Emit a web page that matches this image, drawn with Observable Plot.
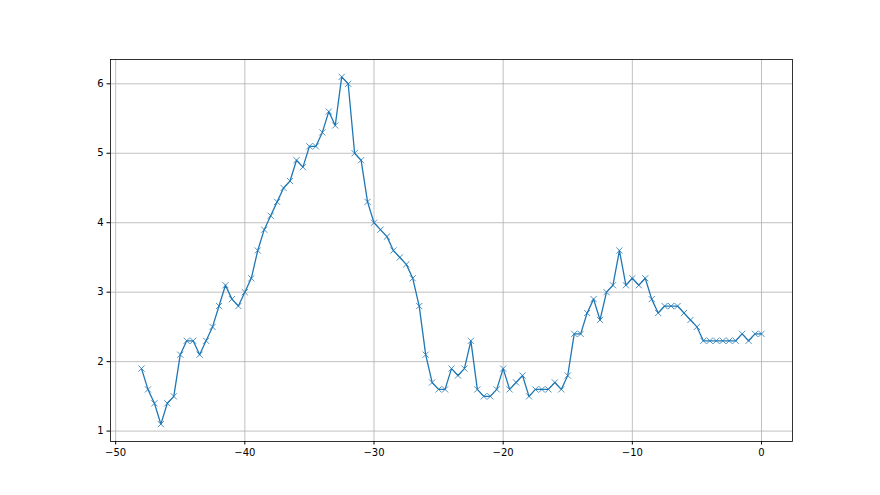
<!DOCTYPE html>
<html>
<head>
<meta charset="utf-8">
<script src="https://cdn.jsdelivr.net/npm/d3@7"></script>
<script src="https://cdn.jsdelivr.net/npm/@observablehq/plot@0.6"></script>
<style>
  html, body { margin: 0; padding: 0; background: #fff; }
  svg { display: block; }
</style>
</head>
<body>
<div id="chart"></div>
<script>
const xValues = [
  -48, -47.5, -47, -46.5, -46, -45.5, -45, -44.5, -44, -43.5,
  -43, -42.5, -42, -41.5, -41, -40.5, -40, -39.5, -39, -38.5,
  -38, -37.5, -37, -36.5, -36, -35.5, -35, -34.5, -34, -33.5,
  -33, -32.5, -32, -31.5, -31, -30.5, -30, -29.5, -29, -28.5,
  -28, -27.5, -27, -26.5, -26, -25.5, -25, -24.5, -24, -23.5,
  -23, -22.5, -22, -21.5, -21, -20.5, -20, -19.5, -19, -18.5,
  -18, -17.5, -17, -16.5, -16, -15.5, -15, -14.5, -14, -13.5,
  -13, -12.5, -12, -11.5, -11, -10.5, -10, -9.5, -9, -8.5,
  -8, -7.5, -7, -6.5, -6, -5.5, -5, -4.5, -4, -3.5,
  -3, -2.5, -2, -1.5, -1, -0.5, 0
];
const yValues = [
  1.9, 1.6, 1.4, 1.1, 1.4, 1.5, 2.1, 2.3, 2.3, 2.1,
  2.3, 2.5, 2.8, 3.1, 2.9, 2.8, 3.0, 3.2, 3.6, 3.9,
  4.1, 4.3, 4.5, 4.6, 4.9, 4.8, 5.1, 5.1, 5.3, 5.6,
  5.4, 6.1, 6.0, 5.0, 4.9, 4.3, 4.0, 3.9, 3.8, 3.6,
  3.5, 3.4, 3.2, 2.8, 2.1, 1.7, 1.6, 1.6, 1.9, 1.8,
  1.9, 2.3, 1.6, 1.5, 1.5, 1.6, 1.9, 1.6, 1.7, 1.8,
  1.5, 1.6, 1.6, 1.6, 1.7, 1.6, 1.8, 2.4, 2.4, 2.7,
  2.9, 2.6, 3.0, 3.1, 3.6, 3.1, 3.2, 3.1, 3.2, 2.9,
  2.7, 2.8, 2.8, 2.8, 2.7, 2.6, 2.5, 2.3, 2.3, 2.3,
  2.3, 2.3, 2.3, 2.4, 2.3, 2.4, 2.4
];
const xTicks = [-50, -40, -30, -20, -10, 0];
const yTicks = [1, 2, 3, 4, 5, 6];

const data = xValues.map((x, i) => ({x, y: yValues[i]}));
const color = "#1f77b4";
const fmt = d => d < 0 ? "\u2212" + Math.abs(d) : String(d);

const chart = Plot.plot({
  width: 880,
  height: 495,
  marginLeft: 110,
  marginRight: 88,
  marginTop: 59,
  marginBottom: 54,
  style: {fontFamily: "DejaVu Sans", fontSize: "10px", background: "#fff", color: "#000"},
  x: {domain: [-50.4, 2.4]},
  y: {domain: [0.85, 6.35]},
  marks: [
    Plot.gridX(xTicks, {stroke: "#b0b0b0", strokeOpacity: 1, strokeWidth: 0.8}),
    Plot.gridY(yTicks, {stroke: "#b0b0b0", strokeOpacity: 1, strokeWidth: 0.8}),
    Plot.axisX({ticks: xTicks, tickSize: 3.5, tickPadding: 3.5, tickFormat: fmt, label: null, stroke: "#000"}),
    Plot.axisY({ticks: yTicks, tickSize: 3.5, tickPadding: 3.5, tickFormat: fmt, label: null, stroke: "#000"}),
    Plot.line(data, {x: "x", y: "y", stroke: color, strokeWidth: 1.3}),
    Plot.dot(data, {x: "x", y: "y", symbol: "times", r: 2.9, stroke: color, strokeWidth: 0.8}),
    Plot.frame({stroke: "#000", strokeWidth: 0.8})
  ]
});
document.getElementById("chart").appendChild(chart);
</script>
</body>
</html>
